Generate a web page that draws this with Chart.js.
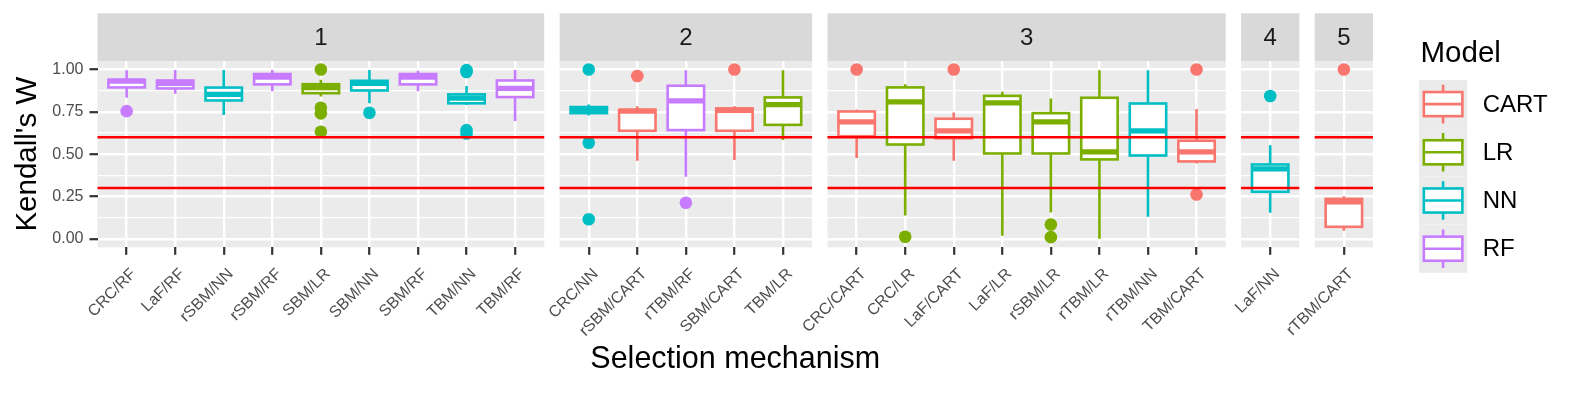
<!DOCTYPE html>
<html>
<head>
<meta charset="utf-8">
<title>Kendall's W by selection mechanism</title>
<script src="https://cdn.jsdelivr.net/npm/chart.js@4.4.1/dist/chart.umd.min.js"></script>
<style>
  html, body { margin: 0; padding: 0; background: #fff; }
  #wrap { width: 1578px; height: 393px; }
</style>
</head>
<body>
<div id="wrap"><canvas id="chart" width="1578" height="393"></canvas></div>
<script>
// values

const panels = ["1", "2", "3", "4", "5"];

const mechanisms = [
  "CRC/RF", "LaF/RF", "rSBM/NN", "rSBM/RF", "SBM/LR", "SBM/NN", "SBM/RF", "TBM/NN", "TBM/RF",
  "CRC/NN", "rSBM/CART", "rTBM/RF", "SBM/CART", "TBM/LR",
  "CRC/CART", "CRC/LR", "LaF/CART", "LaF/LR", "rSBM/LR", "rTBM/LR", "rTBM/NN", "TBM/CART",
  "LaF/NN",
  "rTBM/CART",
];
const panelOf = [1, 1, 1, 1, 1, 1, 1, 1, 1, 2, 2, 2, 2, 2, 3, 3, 3, 3, 3, 3, 3, 3, 4, 5];
const modelOf = [
  "RF", "RF", "NN", "RF", "LR", "NN", "RF", "NN", "RF",
  "NN", "CART", "RF", "CART", "LR",
  "CART", "LR", "CART", "LR", "LR", "LR", "NN", "CART",
  "NN",
  "CART",
];

const whiskerLow  = [0.833, 0.856, 0.731, 0.872, 0.840, 0.800, 0.872, 0.790, 0.695,
                     0.728, 0.461, 0.366, 0.465, 0.583,
                     0.478, 0.138, 0.461, 0.018, 0.156, 0.000, 0.130, 0.445,
                     0.154, 0.047];
const q1          = [0.894, 0.888, 0.817, 0.912, 0.860, 0.876, 0.912, 0.800, 0.837,
                     0.742, 0.638, 0.642, 0.638, 0.673,
                     0.606, 0.557, 0.594, 0.504, 0.504, 0.469, 0.492, 0.457,
                     0.278, 0.071];
const medians     = [0.931, 0.918, 0.853, 0.955, 0.893, 0.918, 0.955, 0.831, 0.888,
                     0.760, 0.754, 0.815, 0.758, 0.793,
                     0.691, 0.809, 0.638, 0.803, 0.691, 0.514, 0.638, 0.514,
                     0.413, 0.218];
const q3          = [0.939, 0.935, 0.893, 0.973, 0.913, 0.933, 0.973, 0.853, 0.935,
                     0.778, 0.762, 0.904, 0.770, 0.835,
                     0.752, 0.894, 0.709, 0.844, 0.742, 0.833, 0.799, 0.579,
                     0.439, 0.236];
const whiskerHigh = [0.996, 0.997, 0.997, 0.997, 0.940, 0.997, 0.993, 0.902, 0.997,
                     0.793, 0.783, 0.996, 0.783, 0.996,
                     0.764, 0.913, 0.746, 0.868, 0.829, 0.996, 0.996, 0.766,
                     0.553, 0.252];
const outliers = [
  [0.754], [], [], [], [1.0, 0.774, 0.741, 0.632], [0.744], [], [0.996, 0.985, 0.642, 0.622], [],
  [1.0, 0.567, 0.116], [0.961], [0.213], [1.0], [],
  [1.0], [0.012], [1.0], [], [0.085, 0.010], [], [], [1.0, 0.262],
  [0.843],
  [1.0],
];

const models = ["CART", "LR", "NN", "RF"];
const modelColors = { CART: "#F8766D", LR: "#7CAE00", NN: "#00BFC4", RF: "#C77CFF" };

const refLines = [0.6, 0.3];
const yMajor = [0, 0.25, 0.5, 0.75, 1];
const yMinor = [0.125, 0.375, 0.625, 0.875];

// ---- facet layout on one linear x axis (units = one category step) ----
const PAD = 0.6;      // expansion at each panel side
const GAP = 0.317;    // white space between panels
const BOX_W = 0.75;

const panelStart = [];
const panelEnd = [];
const xPos = [];
let cursor = 0;
panels.forEach((p, k) => {
  const idx = panelOf.map((v, i) => (v === k + 1 ? i : -1)).filter(i => i >= 0);
  panelStart.push(cursor);
  idx.forEach((i, j) => { xPos[i] = cursor + PAD + j; });
  panelEnd.push(cursor + idx.length - 1 + 2 * PAD);
  cursor = panelEnd[k] + GAP;
});
const xMax = panelEnd[panelEnd.length - 1];

const FONT = '"Liberation Sans", Arial, Helvetica, sans-serif';
Chart.defaults.font.family = FONT;

const LW = 2.6;  // box outline / whisker width

const facetPlugin = {
  id: "facets",
  beforeDraw(chart) {
    const { ctx, chartArea, scales: { x } } = chart;
    ctx.save();
    panels.forEach((p, k) => {
      const l = x.getPixelForValue(panelStart[k]);
      const r = x.getPixelForValue(panelEnd[k]);
      ctx.fillStyle = "#EBEBEB";
      ctx.fillRect(l, chartArea.top, r - l, chartArea.bottom - chartArea.top);
      ctx.fillStyle = "#D9D9D9";
      ctx.fillRect(l, 13.3, r - l, chartArea.top - 13.3);
      ctx.fillStyle = "#1A1A1A";
      ctx.font = "24px " + FONT;
      ctx.textAlign = "center";
      ctx.textBaseline = "middle";
      ctx.fillText(p, (l + r) / 2, (13.3 + chartArea.top) / 2 + 1);
    });
    ctx.restore();
  },
  beforeDatasetsDraw(chart) {
    const { ctx, scales: { x, y } } = chart;
    ctx.save();
    ctx.lineCap = "butt";
    mechanisms.forEach((m, i) => {
      const col = modelColors[modelOf[i]];
      const cx = x.getPixelForValue(xPos[i]);
      const l = x.getPixelForValue(xPos[i] - BOX_W / 2);
      const r = x.getPixelForValue(xPos[i] + BOX_W / 2);
      const yHi = y.getPixelForValue(whiskerHigh[i]);
      const yQ3 = y.getPixelForValue(q3[i]);
      const yMed = y.getPixelForValue(medians[i]);
      const yQ1 = y.getPixelForValue(q1[i]);
      const yLo = y.getPixelForValue(whiskerLow[i]);
      ctx.strokeStyle = col;
      ctx.lineWidth = LW;
      ctx.beginPath();
      ctx.moveTo(cx, yHi); ctx.lineTo(cx, yQ3);
      ctx.moveTo(cx, yQ1); ctx.lineTo(cx, yLo);
      ctx.stroke();
      ctx.fillStyle = "#FFFFFF";
      ctx.fillRect(l, yQ3, r - l, yQ1 - yQ3);
      ctx.strokeRect(l, yQ3, r - l, yQ1 - yQ3);
      ctx.lineWidth = LW * 2;
      ctx.beginPath();
      ctx.moveTo(l, yMed); ctx.lineTo(r, yMed);
      ctx.stroke();
    });
    ctx.restore();
  },
  afterDatasetsDraw(chart) {
    const { ctx, scales: { x, y } } = chart;
    ctx.save();
    ctx.strokeStyle = "#FF0000";
    ctx.lineWidth = 2.6;
    refLines.forEach(v => {
      const py = y.getPixelForValue(v);
      panels.forEach((p, k) => {
        ctx.beginPath();
        ctx.moveTo(x.getPixelForValue(panelStart[k]), py);
        ctx.lineTo(x.getPixelForValue(panelEnd[k]), py);
        ctx.stroke();
      });
    });
    ctx.restore();
  },
  afterDraw(chart) {
    // legend
    const { ctx } = chart;
    const keyX = 1419, keyTop = 80, keySize = 48.2;
    ctx.save();
    ctx.fillStyle = "#000000";
    ctx.font = "29.5px " + FONT;
    ctx.textAlign = "left";
    ctx.textBaseline = "alphabetic";
    ctx.fillText("Model", 1420.5, 61.7);
    models.forEach((m, k) => {
      const top = keyTop + k * keySize;
      ctx.fillStyle = "#EBEBEB";
      ctx.fillRect(keyX, top, keySize, keySize);
      const col = modelColors[m];
      const l = keyX + keySize * 0.1, r = keyX + keySize * 0.9;
      const bt = top + keySize * 0.25, bb = top + keySize * 0.75;
      const cx = keyX + keySize / 2, cy = top + keySize / 2;
      ctx.strokeStyle = col;
      ctx.lineWidth = LW;
      ctx.beginPath();
      ctx.moveTo(cx, top + keySize * 0.1); ctx.lineTo(cx, bt);
      ctx.moveTo(cx, bb); ctx.lineTo(cx, top + keySize * 0.9);
      ctx.stroke();
      ctx.fillStyle = "#FFFFFF";
      ctx.fillRect(l, bt, r - l, bb - bt);
      ctx.strokeRect(l, bt, r - l, bb - bt);
      ctx.beginPath();
      ctx.moveTo(l, cy); ctx.lineTo(r, cy);
      ctx.stroke();
      ctx.fillStyle = "#000000";
      ctx.font = "24px " + FONT;
      ctx.textBaseline = "middle";
      ctx.fillText(m, 1482.7, cy + 1);
    });
    ctx.restore();
  },
};

// one scatter dataset of outliers per model
const datasets = models.map(m => ({
  label: m,
  data: mechanisms.flatMap((name, i) =>
    modelOf[i] === m ? outliers[i].map(v => ({ x: xPos[i], y: v })) : []),
  backgroundColor: modelColors[m],
  borderWidth: 0,
  pointRadius: 6.3,
  pointHoverRadius: 6.3,
}));

new Chart(document.getElementById("chart").getContext("2d"), {
  type: "scatter",
  data: { datasets },
  options: {
    responsive: false,
    animation: false,
    events: [],
    layout: { padding: { top: 61, right: 205, left: 0, bottom: 0 } },
    plugins: {
      legend: { display: false },
      tooltip: { enabled: false },
    },
    scales: {
      x: {
        type: "linear",
        min: 0,
        max: xMax,
        afterBuildTicks: s => { s.ticks = xPos.map(v => ({ value: v })); },
        afterFit: s => { s.height = 393 - 247.3; },
        border: { display: false },
        grid: {
          color: "#FFFFFF",
          lineWidth: 2.4,
          drawTicks: true,
          tickLength: 7.5,
          tickColor: "#333333",
          tickWidth: 2.2,
        },
        ticks: {
          autoSkip: false,
          minRotation: 45,
          maxRotation: 45,
          padding: 10,
          labelOffset: 7,
          color: "#4D4D4D",
          font: { size: 16 },
          callback: (v, i) => mechanisms[i],
        },
        title: {
          display: true,
          text: "Selection mechanism",
          color: "#000000",
          font: { size: 30.5 },
          padding: { top: 0, bottom: 15 },
        },
      },
      y: {
        type: "linear",
        min: -0.05,
        max: 1.05,
        afterBuildTicks: s => {
          s.ticks = yMajor.concat(yMinor).sort((a, b) => a - b).map(v => ({ value: v }));
        },
        afterFit: s => { s.width = 97.5; },
        border: { display: false },
        grid: {
          color: "#FFFFFF",
          lineWidth: c => (yMajor.includes(c.tick.value) ? 2.4 : 1.2),
          drawTicks: true,
          tickLength: 8,
          tickWidth: 2.2,
          tickColor: c => (yMajor.includes(c.tick.value) ? "#333333" : "rgba(0,0,0,0)"),
        },
        ticks: {
          padding: 6,
          color: "#4D4D4D",
          font: { size: 16 },
          callback: v => (yMajor.includes(v) ? v.toFixed(2) : ""),
        },
        title: {
          display: true,
          text: "Kendall's W",
          color: "#000000",
          font: { size: 29.5 },
          padding: { top: 10, bottom: 0 },
        },
      },
    },
  },
  plugins: [facetPlugin],
});
</script>
</body>
</html>
